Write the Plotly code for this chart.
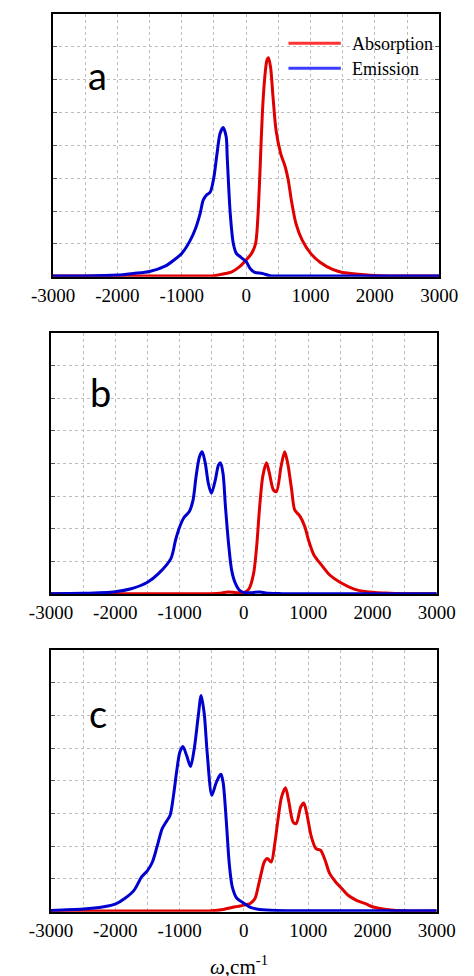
import plotly.graph_objects as go

# ---------------- data ----------------
# Panel a
a_abs_w = [-3000, -2000, -1000, -500, -366, -223, -105, 0, 85, 147, 180, 214, 252, 290, 323, 347, 380, 418, 465, 537, 608, 655, 703, 774, 869, 1002, 1154, 1344, 1496, 1629, 2000, 2500, 3000]
a_abs_y = [0.02, 0.02, 0.02, 0.03, 0.08, 0.15, 0.30, 0.51, 0.71, 1.01, 1.72, 3.14, 4.97, 6.08, 6.59, 6.67, 6.38, 5.47, 4.46, 3.75, 3.34, 2.94, 2.33, 1.62, 1.12, 0.71, 0.43, 0.22, 0.13, 0.10, 0.04, 0.02, 0.02]
a_emi_w = [-3000, -2500, -2000, -1750, -1500, -1250, -1119, -1000, -881, -786, -714, -667, -619, -557, -500, -452, -405, -357, -310, -294, -247, -199, -152, -81, 0, 62, 133, 252, 370, 500, 1000, 2000, 3000]
a_emi_y = [0.02, 0.02, 0.05, 0.10, 0.16, 0.33, 0.51, 0.71, 1.06, 1.47, 1.93, 2.33, 2.48, 2.58, 3.04, 3.75, 4.36, 4.54, 4.26, 3.65, 1.93, 1.01, 0.71, 0.59, 0.46, 0.25, 0.13, 0.10, 0.03, 0.02, 0.02, 0.02, 0.02]

# Panel b
b_abs_w = [-3000, -1000, -500, -380, -250, -120, 0, 81, 152, 199, 246, 294, 351, 398, 460, 507, 578, 635, 682, 744, 791, 872, 948, 1005, 1090, 1194, 1336, 1502, 1716, 1905, 2200, 2500, 3000]
b_abs_y = [0.02, 0.02, 0.02, 0.03, 0.07, 0.05, 0.05, 0.17, 0.64, 1.46, 2.68, 3.60, 4.02, 3.70, 3.19, 3.14, 3.90, 4.36, 4.01, 3.19, 2.58, 2.39, 2.07, 1.66, 1.20, 0.93, 0.59, 0.36, 0.16, 0.08, 0.04, 0.02, 0.02]
b_emi_w = [-3000, -2500, -2000, -1752, -1505, -1324, -1133, -1062, -1000, -933, -848, -790, -743, -690, -648, -600, -552, -505, -443, -395, -362, -324, -286, -238, -190, -133, -62, 10, 100, 246, 389, 600, 3000]
b_emi_y = [0.02, 0.03, 0.08, 0.17, 0.36, 0.64, 1.10, 1.66, 2.05, 2.34, 2.53, 2.88, 3.60, 4.21, 4.36, 4.01, 3.39, 3.09, 3.50, 3.95, 4.02, 3.70, 2.68, 1.56, 0.74, 0.34, 0.11, 0.05, 0.05, 0.07, 0.03, 0.02, 0.02]

# Panel c
c_abs_w = [-3000, -1000, -500, -322, -132, 0, 104, 175, 222, 270, 317, 364, 426, 482, 530, 587, 648, 695, 766, 814, 885, 932, 979, 1050, 1121, 1192, 1263, 1334, 1428, 1523, 1617, 1759, 1901, 2000, 2250, 2500, 3000]
c_abs_y = [0.02, 0.02, 0.03, 0.07, 0.15, 0.20, 0.26, 0.41, 0.76, 1.17, 1.52, 1.63, 1.52, 2.09, 2.80, 3.51, 3.79, 3.41, 2.74, 2.69, 3.20, 3.32, 3.00, 2.29, 1.93, 1.88, 1.58, 1.17, 0.91, 0.71, 0.51, 0.34, 0.24, 0.15, 0.06, 0.02, 0.02]
c_emi_w = [-3000, -2500, -2180, -2000, -1848, -1706, -1588, -1502, -1422, -1351, -1270, -1209, -1147, -1090, -1043, -995, -948, -891, -829, -768, -711, -664, -616, -569, -498, -436, -379, -355, -322, -274, -227, -180, -109, 0, 104, 246, 506, 3000]
c_emi_y = [0.04, 0.08, 0.15, 0.23, 0.41, 0.66, 1.07, 1.25, 1.52, 1.98, 2.54, 2.74, 2.95, 3.61, 4.32, 4.88, 5.05, 4.78, 4.44, 5.03, 5.95, 6.61, 6.05, 4.83, 3.56, 3.91, 4.15, 4.20, 3.95, 2.80, 1.47, 0.76, 0.41, 0.26, 0.13, 0.07, 0.04, 0.03]

panel_labels = ["a", "b", "c"]
series_names = ["Absorption", "Emission"]
x_tick_vals = [-3000, -2000, -1000, 0, 1000, 2000, 3000]
x_tick_text = ["-3000", "-2000", "-1000", "0", "1000", "2000", "3000"]

# ---------------- styling ----------------
RED = "#e00000"
BLUE = "#0000d0"
W, H = 474, 976
SERIF = "Liberation Serif"

# (left, right, top, bottom) in pixels
boxes = [(34, 456.7, 14, 276.7), (31.7, 454, 332.7, 594.3), (31.7, 454, 650, 911.7)]

fig = go.Figure()
panels = [(a_abs_w, a_abs_y, a_emi_w, a_emi_y),
          (b_abs_w, b_abs_y, b_emi_w, b_emi_y),
          (c_abs_w, c_abs_y, c_emi_w, c_emi_y)]

for i, (aw, ay, ew, ey) in enumerate(panels):
    xa = "x" if i == 0 else f"x{i+1}"
    ya = "y" if i == 0 else f"y{i+1}"
    fig.add_trace(go.Scatter(x=aw, y=ay, mode="lines", name=series_names[0],
                             line=dict(color=RED, width=3, shape="spline", smoothing=0.8),
                             xaxis=xa, yaxis=ya, showlegend=False))
    fig.add_trace(go.Scatter(x=ew, y=ey, mode="lines", name=series_names[1],
                             line=dict(color=BLUE, width=3, shape="spline", smoothing=0.8),
                             xaxis=xa, yaxis=ya, showlegend=False))

layout = dict(width=W, height=H, margin=dict(l=0, r=0, t=0, b=0),
              paper_bgcolor="white", plot_bgcolor="white", showlegend=False,
              font=dict(family=SERIF, size=18, color="black"))

for i, (l, r, t, b) in enumerate(boxes):
    xk = "xaxis" if i == 0 else f"xaxis{i+1}"
    yk = "yaxis" if i == 0 else f"yaxis{i+1}"
    ya_name = "y" if i == 0 else f"y{i+1}"
    xa_name = "x" if i == 0 else f"x{i+1}"
    layout[xk] = dict(domain=[l / W, r / W], range=[-3000, 3000], anchor=ya_name,
                      tickvals=x_tick_vals, ticktext=x_tick_text,
                      tickfont=dict(family=SERIF, size=19, color="black"),
                      showgrid=True, gridcolor="#bdbdbd", griddash="dot", gridwidth=1,
                      minor=dict(dtick=500, tick0=0, showgrid=True, gridcolor="#bdbdbd",
                                 griddash="dot", gridwidth=1),
                      showline=True, linecolor="black", linewidth=2, mirror=True,
                      ticks="", zeroline=False, fixedrange=True)
    layout[yk] = dict(domain=[1 - b / H, 1 - t / H], range=[0, 8], anchor=xa_name,
                      dtick=1, tick0=0, showticklabels=False,
                      showgrid=True, gridcolor="#bdbdbd", griddash="dot", gridwidth=1,
                      showline=True, linecolor="black", linewidth=2, mirror="ticks",
                      ticks="inside", ticklen=4, tickcolor="#555555", tickwidth=1,
                      zeroline=False, fixedrange=True)

annotations = []
label_pos = [(83, 75), (86, 392), (83, 713)]
for lab, (px, py) in zip(panel_labels, label_pos):
    annotations.append(dict(text=lab, xref="paper", yref="paper", x=px / W, y=1 - py / H,
                            xanchor="center", yanchor="middle", showarrow=False,
                            font=dict(family="Lato", size=38, color="black")))

# legend (drawn manually, top-right of panel a)
legend_rows = [(series_names[0], "#ff3333", 43.3), (series_names[1], "#3c3cff", 68.3)]
shapes = []
for name, col, py in legend_rows:
    shapes.append(dict(type="line", xref="paper", yref="paper", x0=291.7 / W, x1=349 / W,
                       y0=1 - py / H, y1=1 - py / H, line=dict(color=col, width=3)))
    annotations.append(dict(text=name, xref="paper", yref="paper", x=359 / W, y=1 - (py + 1) / H,
                            xanchor="left", yanchor="middle", showarrow=False,
                            font=dict(family=SERIF, size=18, color="black")))

annotations.append(dict(text="<i>ω</i>,cm<sup>-1</sup>", xref="paper", yref="paper",
                        x=237 / W, y=1 - 965 / H, xanchor="center", yanchor="middle",
                        showarrow=False, font=dict(family=SERIF, size=21, color="black")))

layout["annotations"] = annotations
layout["shapes"] = shapes
fig.update_layout(**layout)

fig.write_html("out.html")
